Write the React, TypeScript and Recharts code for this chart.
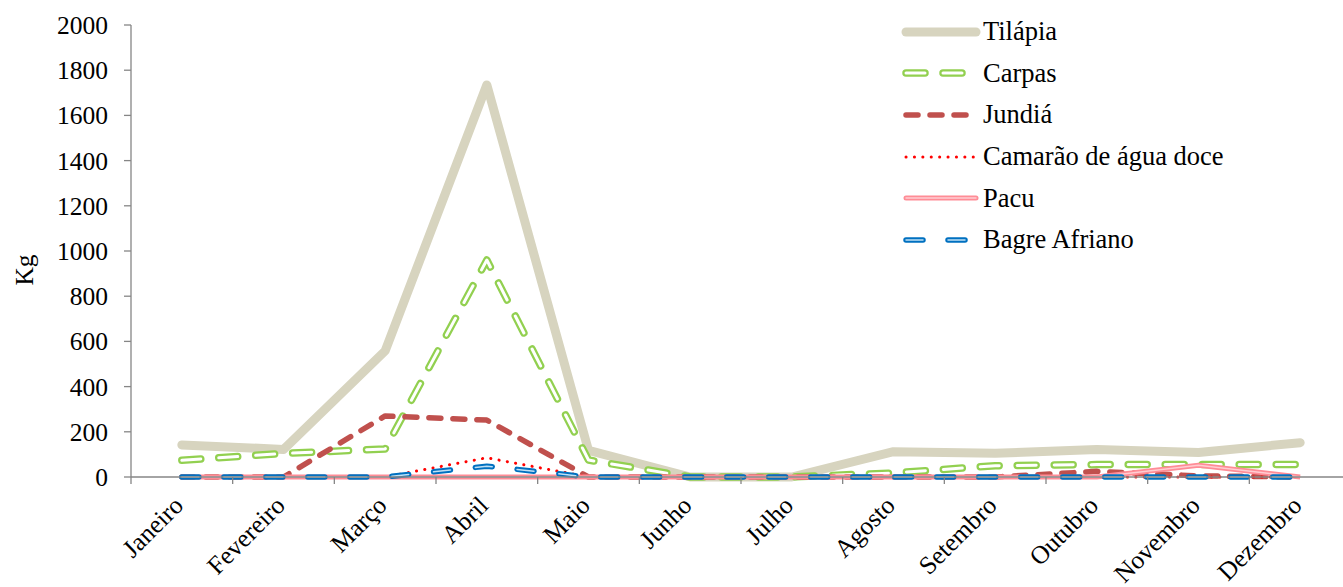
import { LineChart, Line, XAxis, YAxis } from 'recharts';

const months = ['Janeiro', 'Fevereiro', 'Março', 'Abril', 'Maio', 'Junho', 'Julho', 'Agosto', 'Setembro', 'Outubro', 'Novembro', 'Dezembro'];
const yTicks = [0, 200, 400, 600, 800, 1000, 1200, 1400, 1600, 1800, 2000];

const tilapia = [142, 122, 558, 1735, 118, 0, 0, 112, 105, 122, 108, 152];
const carpas = [74, 104, 124, 960, 75, 0, 0, 18, 50, 55, 55, 55];
const jundia = [0, 0, 270, 252, 0, 0, 0, 0, 0, 25, 5, 0];
const camarao = [0, 0, 0, 85, 0, 0, 0, 0, 0, 0, 0, 0];
const pacu = [0, 0, 0, 0, 0, 0, 0, 0, 0, 0, 52, 0];
const bagre = [0, 0, 0, 48, 0, 0, 0, 0, 0, 0, 0, 0];

const data = months.map((m, i) => ({
  month: m,
  tilapia: tilapia[i],
  carpas: carpas[i],
  jundia: jundia[i],
  camarao: camarao[i],
  pacu: pacu[i],
  bagre: bagre[i],
}));

const FONT = 'Liberation Serif';
const AXIS = '#868686';
const CHART_W = 1360;
const LEFT = 131;
const RIGHT = 9;
const BAND = (CHART_W - LEFT - RIGHT) / months.length;

// legend samples, drawn the same way as the lines
const legendRows = [
  { name: 'Tilápia', layers: [{ stroke: '#D7D4BF', width: 9 }] },
  { name: 'Carpas', layers: [{ stroke: '#92D050', width: 7.5, dash: '19 18' }, { stroke: '#ffffff', width: 3, dash: '19 18' }], len: 64 },
  { name: 'Jundiá', layers: [{ stroke: '#C0504D', width: 5.5, dash: '12 12' }], len: 66 },
  { name: 'Camarão de água doce', layers: [{ stroke: '#FF0000', width: 3, dash: '0.1 8.3' }] },
  { name: 'Pacu', layers: [{ stroke: '#FF8C96', width: 5 }, { stroke: '#FFCDD2', width: 1.5 }] },
  { name: 'Bagre Afriano', layers: [{ stroke: '#0070C0', width: 5.5, dash: '17 25' }, { stroke: '#BFE0F5', width: 1.5, dash: '17 25' }], len: 64 },
];

function MonthTick(props: any) {
  const { x, y, payload } = props;
  return (
    <g>
      <line x1={x - BAND / 2} y1={y} x2={x - BAND / 2} y2={y + 7} stroke={AXIS} strokeWidth={1.3} />
      <text
        x={0}
        y={0}
        transform={`translate(${x + 3},${y + 30}) rotate(-45)`}
        textAnchor="end"
        style={{ fontFamily: FONT }}
        fontSize={25.5}
        fill="#000"
      >
        {payload.value}
      </text>
    </g>
  );
}

function LegendBox() {
  return (
    <div style={{ position: 'absolute', left: 897, top: 11, fontFamily: FONT, fontSize: 26.5, color: '#000' }}>
      {legendRows.map((r, i) => (
        <div key={i} style={{ display: 'flex', alignItems: 'center', height: 41.6 }}>
          <svg width={86} height={14} style={{ display: 'block' }}>
            {r.layers.map((l: any, j: number) => (
              <line
                key={j}
                x1={9}
                y1={7}
                x2={9 + (r.len || 70)}
                y2={7}
                stroke={l.stroke}
                strokeWidth={l.width}
                strokeDasharray={l.dash}
                strokeLinecap="round"
              />
            ))}
          </svg>
          <span style={{ whiteSpace: 'nowrap' }}>{r.name}</span>
        </div>
      ))}
    </div>
  );
}

export default function App() {
  return (
    <div style={{ position: 'absolute', left: 0, top: 0, width: 1343, height: 587, overflow: 'hidden', background: '#fff' }}>
      <LineChart width={CHART_W} height={587} data={data} margin={{ top: 25, right: RIGHT, left: 0, bottom: 0 }}>
        <XAxis
          dataKey="month"
          interval={0}
          height={110}
          padding={{ left: BAND / 2, right: BAND / 2 }}
          tickLine={false}
          tickSize={0}
          tickMargin={0}
          tick={<MonthTick />}
          axisLine={{ stroke: AXIS, strokeWidth: 1.3 }}
        />
        <YAxis
          width={LEFT}
          domain={[0, 2000]}
          ticks={yTicks}
          interval={0}
          tickSize={7}
          tickMargin={16}
          axisLine={{ stroke: AXIS, strokeWidth: 1.3 }}
          tickLine={{ stroke: AXIS, strokeWidth: 1.3 }}
          tick={{ style: { fontFamily: FONT }, fontSize: 25.5, fill: '#000' }}
          label={{
            content: () => (
              <text
                x={0}
                y={0}
                transform="translate(33,270) rotate(-90)"
                textAnchor="middle"
                style={{ fontFamily: FONT }}
                fontSize={25.5}
                fill="#000"
              >
                Kg
              </text>
            ),
          }}
        />
        <Line dataKey="tilapia" name="Tilápia" stroke="#D7D4BF" strokeWidth={9} dot={false} strokeLinejoin="round" strokeLinecap="round" isAnimationActive={false} />
        <Line dataKey="carpas" name="Carpas" stroke="#92D050" strokeWidth={7.5} strokeDasharray="19 18" strokeLinecap="round" strokeLinejoin="round" dot={false} isAnimationActive={false} />
        <Line dataKey="carpas" name="carpas-inner" legendType="none" stroke="#ffffff" strokeWidth={3} strokeDasharray="19 18" strokeLinecap="round" strokeLinejoin="round" dot={false} isAnimationActive={false} />
        <Line dataKey="jundia" name="Jundiá" stroke="#C0504D" strokeWidth={5.5} strokeDasharray="12 12" strokeLinecap="round" strokeLinejoin="round" dot={false} isAnimationActive={false} />
        <Line dataKey="camarao" name="Camarão de água doce" stroke="#FF0000" strokeWidth={3} strokeDasharray="0.1 8.3" strokeLinecap="round" dot={false} isAnimationActive={false} />
        <Line dataKey="pacu" name="Pacu" stroke="#FF8C96" strokeWidth={5} strokeLinejoin="round" dot={false} isAnimationActive={false} />
        <Line dataKey="pacu" name="pacu-inner" legendType="none" stroke="#FFCDD2" strokeWidth={1.5} strokeLinejoin="round" dot={false} isAnimationActive={false} />
        <Line dataKey="bagre" name="Bagre Afriano" stroke="#0070C0" strokeWidth={5.5} strokeDasharray="17 25" strokeLinecap="round" strokeLinejoin="round" dot={false} isAnimationActive={false} />
        <Line dataKey="bagre" name="bagre-inner" legendType="none" stroke="#BFE0F5" strokeWidth={1.5} strokeDasharray="17 25" strokeLinecap="round" strokeLinejoin="round" dot={false} isAnimationActive={false} />
      </LineChart>
      <LegendBox />
    </div>
  );
}
